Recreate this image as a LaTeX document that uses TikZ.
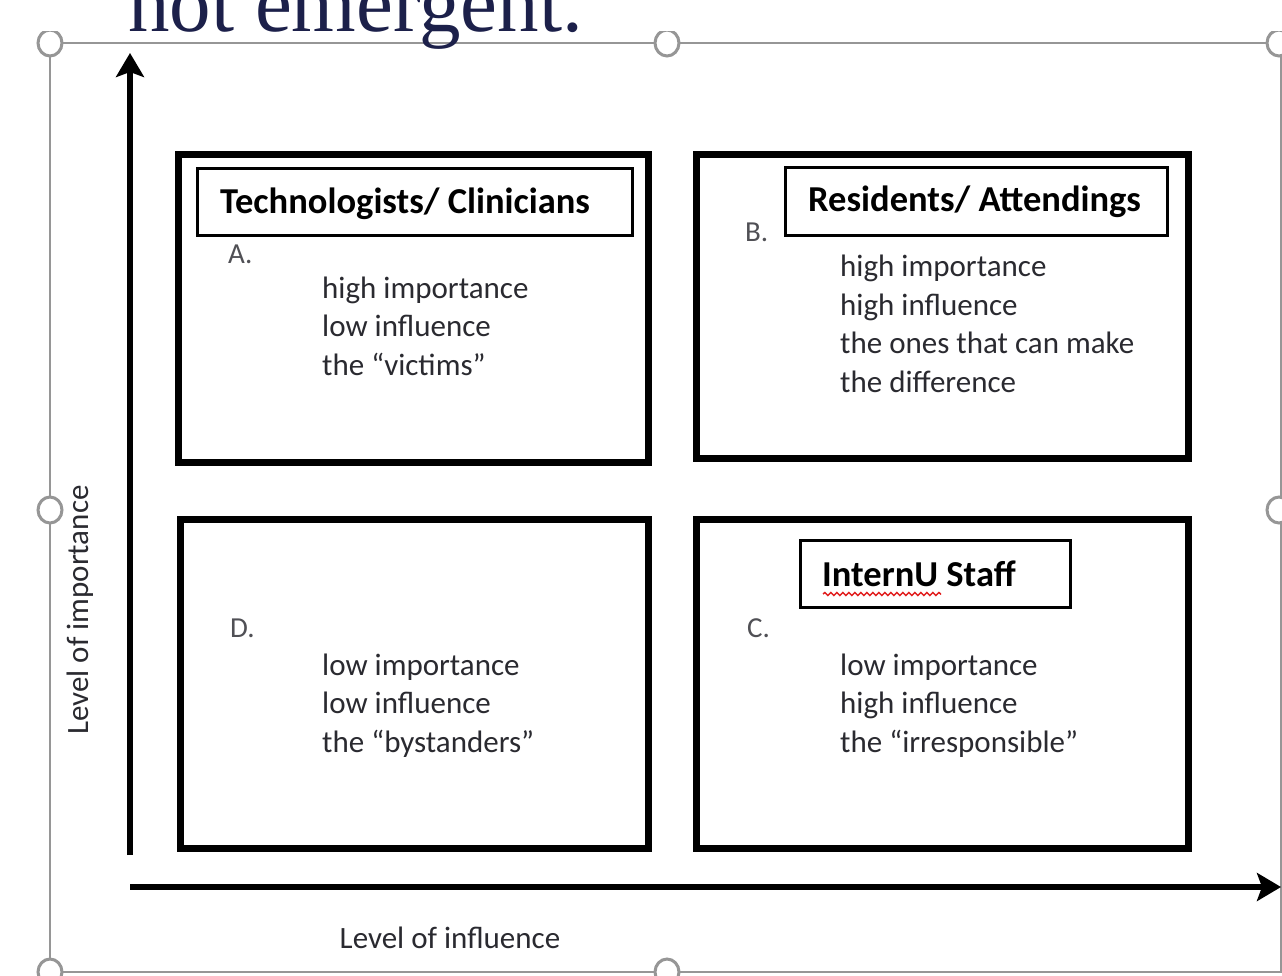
\documentclass[tikz,border=0pt]{standalone}
\usepackage{fontspec}
\setmainfont{Carlito}
\newfontfamily\headfont{Liberation Serif}
\usetikzlibrary{arrows.meta,decorations.pathmorphing}

\definecolor{headnavy}{RGB}{28,32,74}
\definecolor{selgray}{RGB}{150,150,150}
\definecolor{bodygray}{RGB}{42,42,48}
\definecolor{labgray}{RGB}{80,80,85}
\definecolor{spellred}{RGB}{225,30,30}

\tikzset{
  quadbox/.style={draw, line width=7pt, inner sep=0pt},
  titlebox/.style={draw, line width=3pt, inner sep=0pt},
  titletext/.style={font=\bfseries\fontsize{36.5}{40}\selectfont, anchor=base west, inner sep=0pt},
  bodytext/.style={font=\fontsize{31}{38.5}\selectfont, text=bodygray, align=left, anchor=base west, inner sep=0pt},
  letterlab/.style={font=\fontsize{29}{34}\selectfont, text=labgray, anchor=base west, inner sep=0pt},
  axislab/.style={font=\fontsize{31}{38}\selectfont, text=bodygray, anchor=base, inner sep=0pt},
  axisarrow/.style={line width=5.5pt, -{Stealth[length=24pt, width=28pt, inset=5pt]}},
  handle/.style={draw=selgray, fill=white, line width=3pt},
}

\begin{document}
\begin{tikzpicture}[x=1pt, y=-1pt]
  \useasboundingbox[fill=white] (0,0) rectangle (1282,975);

  % selection frame of the picture
  \draw[selgray, line width=2.5pt] (50,43) rectangle (1281,972);
  \draw[handle] (50,43) ellipse [x radius=12pt, y radius=13pt];
  \draw[handle] (667,43) ellipse [x radius=12pt, y radius=13pt];
  \draw[handle] (1279,43) ellipse [x radius=12pt, y radius=13pt];
  \draw[handle] (50,510) ellipse [x radius=12pt, y radius=13pt];
  \draw[handle] (1279,510) ellipse [x radius=12pt, y radius=13pt];
  \draw[handle] (50,972) ellipse [x radius=12pt, y radius=13pt];
  \draw[handle] (667,972) ellipse [x radius=12pt, y radius=13pt];

  % heading cut off at the top
  \fill[white] (0,0) rectangle (1282,31);
  \node[font=\headfont\fontsize{83}{90}\selectfont, text=headnavy, anchor=base west, inner sep=0pt] (heading) at (128,31) {not emergent.};

  % axes
  \coordinate (ybot) at (130,855);
  \coordinate (ytop) at (130,53);
  \coordinate (xleft) at (130,887);
  \coordinate (xright) at (1281,887);
  \draw[axisarrow] (ybot) -- (ytop);
  \draw[axisarrow] (xleft) -- (xright);
  \node[axislab, rotate=90] (ylab) at (88,610) {Level of importance};
  \node[axislab] (xlab) at (450,948) {Level of influence};

  % quadrant A
  \node[quadbox, minimum width=470pt, minimum height=308pt] (qa) at (413,308) {};
  \node[titlebox, minimum width=435pt, minimum height=67pt] (tba) at (414.5,201.5) {};
  \node[titletext] (tta) at (220,213) {Technologists/ Clinicians};
  \node[letterlab] (la) at (228,263) {A.};
  \node[bodytext] (bodya) at (322,375) {high importance\\low influence\\the “victims”};

  % quadrant B
  \node[quadbox, minimum width=492pt, minimum height=304pt] (qb) at (942,306) {};
  \node[titlebox, minimum width=382pt, minimum height=68pt] (tbb) at (976,201) {};
  \node[titletext] (ttb) at (808,211) {Residents/ Attendings};
  \node[letterlab] (lb) at (745,241) {B.};
  \node[bodytext] (bodyb) at (840,392) {high importance\\high influence\\the ones that can make\\the difference};

  % quadrant D
  \node[quadbox, minimum width=468pt, minimum height=329pt] (qd) at (414,683.5) {};
  \node[letterlab] (ld) at (230,637) {D.};
  \node[bodytext] (bodyd) at (322,752) {low importance\\low influence\\the “bystanders”};

  % quadrant C
  \node[quadbox, minimum width=492pt, minimum height=329pt] (qc) at (942,683.5) {};
  \node[titlebox, minimum width=270pt, minimum height=67pt] (tbc) at (935,573.5) {};
  \node[titletext] (ttc) at (822,586) {InternU Staff};
  \draw[spellred, line width=1.5pt, decorate, decoration={snake, amplitude=1.5pt, segment length=6pt}] (823,594) -- (941,594);
  \node[letterlab] (lc) at (747,637) {C.};
  \node[bodytext] (bodyc) at (840,752) {low importance\\high influence\\the “irresponsible”};
\end{tikzpicture}
\end{document}
